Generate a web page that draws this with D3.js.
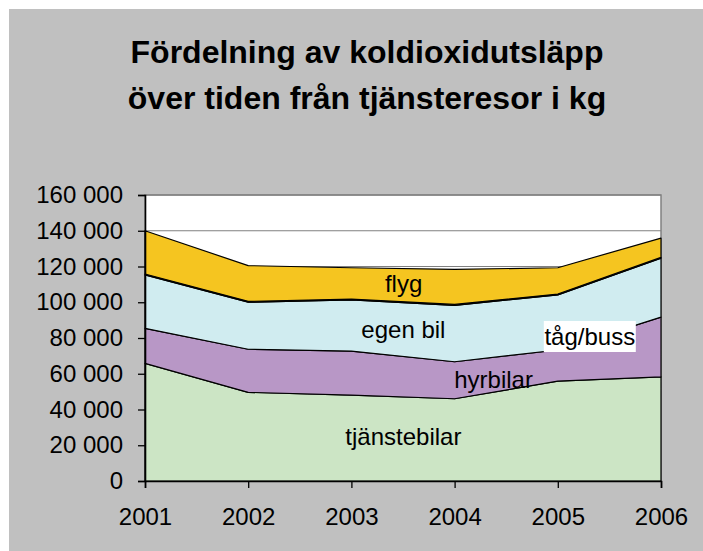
<!DOCTYPE html>
<html>
<head>
<meta charset="utf-8">
<script src="https://cdn.jsdelivr.net/npm/d3@7"></script>
<style>
  body { margin: 0; background: #fff; }
  text { font-family: "Liberation Sans", Arial, sans-serif; }
</style>
</head>
<body>
<div id="chart"></div>
<script>
// data
var years = ["2001", "2002", "2003", "2004", "2005", "2006"];
var series = ["tjänstebilar", "hyrbilar", "egen bil", "tåg/buss", "flyg"];
var tjanstebilar = [65800, 49600, 48000, 46000, 55900, 58200];
var hyrbilar = [19600, 24100, 24700, 20700, 17400, 33500];
var egenBil = [29900, 26300, 28600, 31600, 30800, 32900];
var tagBuss = [500, 500, 500, 500, 500, 500];
var flyg = [24200, 20000, 17500, 19600, 14700, 10800];
var yTicks = [0, 20000, 40000, 60000, 80000, 100000, 120000, 140000, 160000];
var colors = ["#cce5c5", "#b897c6", "#d0ecf0", "#222222", "#f5c520"];

var width = 703, height = 551;
var mLeft = 145, mRight = 661, mTop = 195, mBottom = 481;

var rows = years.map(function(y, i) {
	return {year: y, "tjänstebilar": tjanstebilar[i], "hyrbilar": hyrbilar[i],
		"egen bil": egenBil[i], "tåg/buss": tagBuss[i], "flyg": flyg[i]};
});

var svg = d3.select("#chart").append("svg")
	.attr("width", width)
	.attr("height", height);

// grey background
svg.append("rect")
	.attr("x", 9).attr("y", 9)
	.attr("width", width - 9).attr("height", height - 9)
	.style("fill", "#c0c0c0");

// title
var title = svg.append("text")
	.attr("text-anchor", "middle")
	.style("font-size", "32px")
	.style("font-weight", "bold")
	.style("fill", "#000");
title.append("tspan").attr("x", 367).attr("y", 63).text("Fördelning av koldioxidutsläpp");
title.append("tspan").attr("x", 367).attr("y", 109).text("över tiden från tjänsteresor i kg");

var x = d3.scalePoint().domain(years).range([mLeft, mRight]);
var y = d3.scaleLinear().domain([0, 160000]).range([mBottom, mTop]);

// plot area
svg.append("rect")
	.attr("x", mLeft).attr("y", mTop)
	.attr("width", mRight - mLeft).attr("height", mBottom - mTop)
	.style("fill", "#fff")
	.style("stroke", "#808080")
	.style("stroke-width", 1.5);

// gridlines
svg.append("g")
	.selectAll("line")
	.data(yTicks.slice(1))
	.enter().append("line")
	.attr("x1", mLeft).attr("x2", mRight)
	.attr("y1", d => y(d)).attr("y2", d => y(d))
	.style("stroke", "#808080")
	.style("stroke-width", 1.2);

var stack = d3.stack().keys(series);
var layers = stack(rows);

var area = d3.area()
	.x(d => x(d.data.year))
	.y0(d => y(d[0]))
	.y1(d => y(d[1]));

svg.append("g")
	.selectAll("path")
	.data(layers)
	.enter().append("path")
	.attr("d", area)
	.style("fill", (d, i) => colors[i])
	.style("stroke", "#000")
	.style("stroke-width", 1.2)
	.style("stroke-linejoin", "round");

var fmt = d3.formatLocale({decimal: ",", thousands: " ", grouping: [3], currency: ["", ""]}).format(",d");

// axes
var yAxis = svg.append("g")
	.attr("transform", "translate(" + mLeft + ",0)")
	.call(d3.axisLeft(y).tickValues(yTicks).tickFormat(fmt).tickSize(7).tickPadding(15));
var xAxis = svg.append("g")
	.attr("transform", "translate(0," + mBottom + ")")
	.call(d3.axisBottom(x).tickSize(7).tickPadding(20));

[yAxis, xAxis].forEach(function(a) {
	a.select(".domain").style("stroke", "#000").style("stroke-width", 1.6);
	a.selectAll(".tick line").style("stroke", "#000").style("stroke-width", 1.3);
	a.selectAll("text")
		.style("font-size", "24px")
		.style("font-family", "'Liberation Sans', Arial, sans-serif")
		.style("fill", "#000");
});

// area labels
var labels = [
	{text: "flyg", year: "2004", dx: -51, y: 284},
	{text: "egen bil", year: "2003", dx: 52, y: 330},
	{text: "hyrbilar", year: "2004", dx: 39, y: 380},
	{text: "tjänstebilar", year: "2003", dx: 52, y: 437}
];
var labelG = svg.append("g");
labels.forEach(function(l) {
	labelG.append("text")
		.attr("x", x(l.year) + l.dx)
		.attr("y", l.y)
		.attr("dy", "0.35em")
		.attr("text-anchor", "middle")
		.style("font-size", "24px")
		.style("fill", "#000")
		.text(l.text);
});

// tåg/buss label with white box
var tb = labelG.append("g").attr("transform", "translate(" + (x("2005") + 32) + ",337)");
tb.append("rect")
	.attr("x", -46).attr("y", -16)
	.attr("width", 92).attr("height", 31)
	.style("fill", "#fff");
tb.append("text")
	.attr("dy", "0.35em")
	.attr("text-anchor", "middle")
	.style("font-size", "24px")
	.style("fill", "#000")
	.text("tåg/buss");
</script>
</body>
</html>
